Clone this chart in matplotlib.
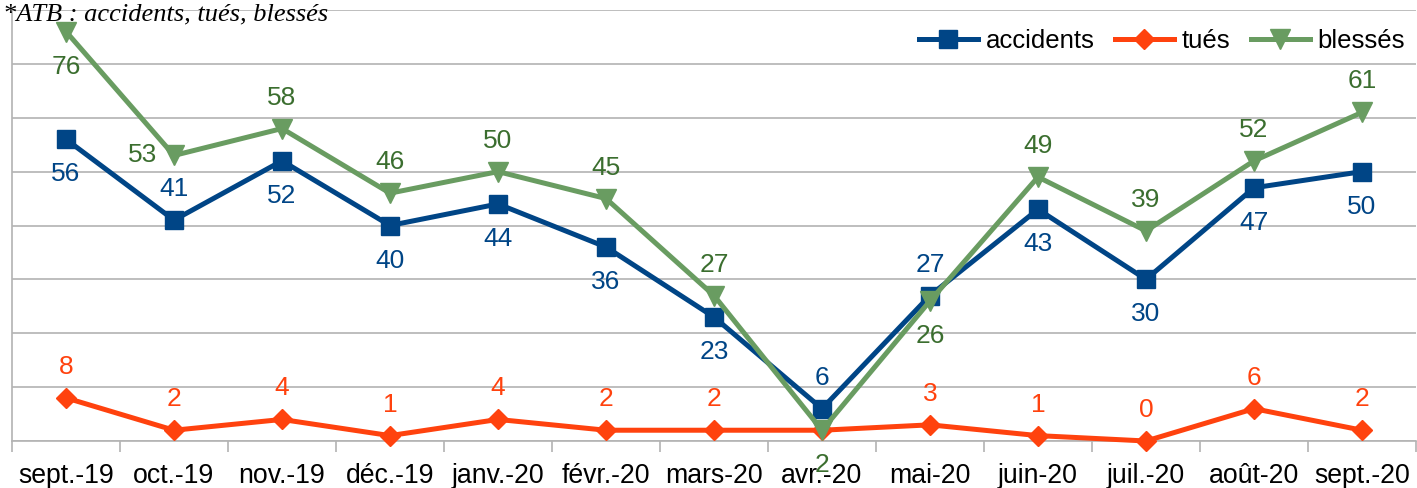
import numpy as np
import matplotlib.pyplot as plt

# data
months = ['sept.-19', 'oct.-19', 'nov.-19', 'déc.-19', 'janv.-20', 'févr.-20', 'mars-20',
          'avr.-20', 'mai-20', 'juin-20', 'juil.-20', 'août-20', 'sept.-20']
accidents = [56, 41, 52, 40, 44, 36, 23, 6, 27, 43, 30, 47, 50]
tues = [8, 2, 4, 1, 4, 2, 2, 2, 3, 1, 0, 6, 2]
blesses = [76, 53, 58, 46, 50, 45, 27, 2, 26, 49, 39, 52, 61]

# where each data label sits relative to its point (None = hidden under other marks)
acc_place = ['b', 'a', 'b', 'b', 'b', 'b', 'b', 'a', 'a', 'b', 'b', 'b', 'b']
tues_place = ['a'] * 7 + [None] + ['a'] * 5
bles_place = ['b', 'l', 'a', 'a', 'a', 'a', 'a', 'b', 'b', 'a', 'a', 'a', 'a']

plt.rcParams['font.family'] = ['Liberation Sans', 'DejaVu Sans']

fig = plt.figure(figsize=(14.17, 4.88), dpi=100)
ax = fig.add_axes([12 / 1417, 47 / 488, 1404 / 1417, 431 / 488])

x = np.arange(len(months))
series = [
    ('accidents', accidents, acc_place, '#004586', '#004586', 's', 13),
    ('tués', tues, tues_place, '#ff420e', '#ff420e', 'D', 10),
    ('blessés', blesses, bles_place, '#699c61', '#3b6e2f', 'v', 15),
]
offsets = {'a': (0, 31), 'b': (0, -35), 'l': (-31, 0)}
for name, vals, place, col, tcol, mk, ms in series:
    ax.plot(x, vals, color=col, lw=3.6, marker=mk, markersize=ms, label=name, zorder=3,
            clip_on=False)
    for xi, v, p in zip(x, vals, place):
        if p is None:
            continue
        ax.annotate(str(v), (xi, v), xytext=offsets[p], textcoords='offset pixels',
                    ha='center', va='center', fontsize=19, color=tcol, zorder=4)

ax.set_xlim(-0.5, len(months) - 0.5)
ax.set_ylim(0, 80)
ax.set_yticks(np.arange(0, 81, 10))
ax.set_yticklabels([])
ax.tick_params(axis='y', length=0)
ax.grid(axis='y', color='#b3b3b3', lw=1.2)
ax.set_axisbelow(True)

ax.set_xticks(x)
ax.set_xticklabels(months, fontsize=19.2)
ax.tick_params(axis='x', which='major', length=0, pad=16)
ax.set_xticks(np.arange(-0.5, len(months), 1), minor=True)
ax.tick_params(axis='x', which='minor', length=8, width=1.2, color='#b3b3b3', direction='out')

for s in ['top', 'right']:
    ax.spines[s].set_visible(False)
for s in ['left', 'bottom']:
    ax.spines[s].set_color('#b3b3b3')
    ax.spines[s].set_linewidth(1.2)

ax.legend(loc='upper right', bbox_to_anchor=(1418 / 1417, 472 / 488), bbox_transform=fig.transFigure,
          ncol=3, frameon=False, fontsize=18.5, handlelength=2.3, handletextpad=0.3,
          columnspacing=0.8, borderaxespad=0.1)

fig.text(3 / 1417, 1 - 14 / 488, '*ATB : accidents, tués, blessés', fontsize=19,
         family=['Liberation Serif', 'DejaVu Serif'], style='italic', va='center', ha='left')

fig.savefig('out.png', dpi=100)
